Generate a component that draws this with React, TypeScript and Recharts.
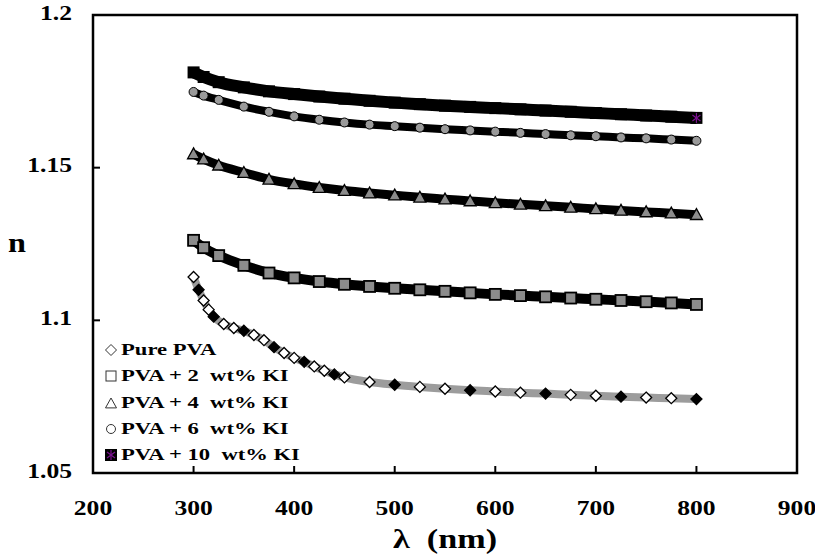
import React from "react";
import { LineChart, Line, XAxis, YAxis, ReferenceArea } from "recharts";

// wavelength (nm) and refractive index n
const pureWl = [300, 305, 310, 315, 320, 330, 340, 350, 360, 370, 380, 390, 400, 410, 420, 430, 440, 450, 475, 500, 525, 550, 575, 600, 625, 650, 675, 700, 725, 750, 775, 800];
const pureN = [1.1142, 1.11, 1.1065, 1.1035, 1.1012, 1.0988, 1.0975, 1.0966, 1.0952, 1.0935, 1.0912, 1.0893, 1.0877, 1.0864, 1.0849, 1.0835, 1.0823, 1.0813, 1.0798, 1.0789, 1.0782, 1.0776, 1.0771, 1.0767, 1.0763, 1.076, 1.0756, 1.0753, 1.075, 1.0747, 1.0745, 1.0742];

const kiWl = [300, 310, 325, 350, 375, 400, 425, 450, 475, 500, 525, 550, 575, 600, 625, 650, 675, 700, 725, 750, 775, 800];
const ki2N = [1.1262, 1.1238, 1.1212, 1.118, 1.1155, 1.1139, 1.1127, 1.1118, 1.1111, 1.1105, 1.11, 1.1095, 1.109, 1.1085, 1.1081, 1.1077, 1.1073, 1.1069, 1.1065, 1.1061, 1.1057, 1.1052];
const ki4N = [1.1545, 1.1528, 1.1508, 1.1484, 1.1462, 1.1447, 1.1435, 1.1425, 1.1417, 1.141, 1.1403, 1.1397, 1.1391, 1.1385, 1.138, 1.1375, 1.137, 1.1365, 1.136, 1.1355, 1.1351, 1.1346];
const ki6N = [1.1748, 1.1736, 1.1722, 1.17, 1.1683, 1.1668, 1.1657, 1.1648, 1.1641, 1.1636, 1.1631, 1.1626, 1.1622, 1.1618, 1.1614, 1.161, 1.1606, 1.1603, 1.1599, 1.1596, 1.1592, 1.1588];
const ki10N = [1.1812, 1.1797, 1.178, 1.1763, 1.175, 1.1741, 1.1733, 1.1726, 1.1719, 1.1713, 1.1708, 1.1703, 1.1699, 1.1695, 1.1691, 1.1687, 1.1683, 1.1679, 1.1675, 1.1671, 1.1667, 1.1663];

const xTicks = [200, 300, 400, 500, 600, 700, 800, 900];
const yTicks = [1.05, 1.1, 1.15, 1.2];
const legendNames = ["Pure PVA", "PVA + 2  wt% KI", "PVA + 4  wt% KI", "PVA + 6  wt% KI", "PVA + 10  wt% KI"];

const toRows = (wl: number[], n: number[]) => wl.map((w, i) => ({ wl: w, n: n[i] }));

const FONT = "'Liberation Serif', 'Times New Roman', serif";
const PURPLE = "#7b1290";
// the original figure is stretched sideways, so its text is wide
const STRETCH = 1.28;

const XTick = ({ x, y, payload }: any) => (
  <g>
    {payload.value > 200 && payload.value < 900 && (
      <line x1={x} x2={x} y1={y} y2={y - 7} stroke="#000" strokeWidth={2} />
    )}
    <text transform={`translate(${x},${y + 37}) scale(${STRETCH},1)`} textAnchor="middle" dominantBaseline="middle"
      fontFamily={FONT} fontWeight="bold" fontSize={20} fill="#000">
      {payload.value}
    </text>
  </g>
);

const YTick = ({ x, y, payload }: any) => (
  <g>
    {payload.value > 1.05 && payload.value < 1.2 && (
      <line x1={x} x2={x + 7} y1={y} y2={y} stroke="#000" strokeWidth={2} />
    )}
    <text transform={`translate(${x - 21},${y}) scale(${STRETCH},1)`} textAnchor="end" dominantBaseline="middle"
      fontFamily={FONT} fontWeight="bold" fontSize={20} fill="#000">
      {payload.value}
    </text>
  </g>
);

const diamond = (cx: number, cy: number, r: number) =>
  `M${cx},${cy - r} L${cx + r},${cy} L${cx},${cy + r} L${cx - r},${cy} Z`;
const triangle = (cx: number, cy: number, r: number) =>
  `M${cx},${cy - r} L${cx + r},${cy + r * 0.8} L${cx - r},${cy + r * 0.8} Z`;

const asterisk = (cx: number, cy: number, r: number, key?: any) => (
  <g key={key} stroke={PURPLE} strokeWidth={1.2}>
    <line x1={cx} x2={cx} y1={cy - r} y2={cy + r} />
    <line x1={cx - r * 0.8} x2={cx + r * 0.8} y1={cy - r * 0.6} y2={cy + r * 0.6} />
    <line x1={cx - r * 0.8} x2={cx + r * 0.8} y1={cy + r * 0.6} y2={cy - r * 0.6} />
  </g>
);

const DiamondDot = (p: any) =>
  p.cx == null ? null : <path key={p.index} d={diamond(p.cx, p.cy, 5.5)} fill={p.index % 3 === 1 ? "#000" : "#fff"} stroke="#000" strokeWidth={1.3} />;
const SquareDot = (p: any) =>
  p.cx == null ? null : <rect key={p.index} x={p.cx - 5.5} y={p.cy - 5.5} width={11} height={11} fill="#8c8c8c" stroke="#000" strokeWidth={1.8} />;
const TriangleDot = (p: any) =>
  p.cx == null ? null : <path key={p.index} d={triangle(p.cx, p.cy, 6)} fill="#8c8c8c" stroke="#000" strokeWidth={1.3} />;
const CircleDot = (p: any) =>
  p.cx == null ? null : <circle key={p.index} cx={p.cx} cy={p.cy} r={4.5} fill="#9a9a9a" stroke="#000" strokeWidth={1} />;
const BlackDot = (p: any) => {
  if (p.cx == null) return null;
  if (p.index === ki10N.length - 1) {
    return (
      <g key={p.index}>
        <rect x={p.cx - 6} y={p.cy - 6} width={12} height={12} fill="#000" />
        {asterisk(p.cx, p.cy, 5)}
      </g>
    );
  }
  return <rect key={p.index} x={p.cx - 6} y={p.cy - 6} width={12} height={12} fill="#000" />;
};

const LegendSymbol = ({ i }: { i: number }) => (
  <svg width={14} height={14} style={{ marginRight: 3, flex: "none" }}>
    {i === 0 && <path d={diamond(7, 7, 5.5)} fill="#fff" stroke="#333" strokeWidth={1} />}
    {i === 1 && <rect x={2} y={2} width={10} height={10} fill="#fff" stroke="#333" strokeWidth={1} />}
    {i === 2 && <path d={triangle(7, 7.5, 5.5)} fill="#fff" stroke="#333" strokeWidth={1} />}
    {i === 3 && <circle cx={7} cy={7} r={4.5} fill="#fff" stroke="#333" strokeWidth={1} />}
    {i === 4 && (
      <g>
        <rect x={1} y={1} width={12} height={12} fill="#000" />
        {asterisk(7, 7, 5)}
      </g>
    )}
  </svg>
);

export default function App() {
  return (
    <div style={{ position: "absolute", left: 0, top: 0, width: 815, height: 560, background: "#fff" }}>
      <LineChart width={815} height={560} margin={{ top: 15, right: 18, bottom: 27, left: 13 }}>
        <XAxis dataKey="wl" type="number" domain={[200, 900]} ticks={xTicks} height={60}
          axisLine={false} tickLine={false} tickSize={0} tickMargin={0} tick={<XTick />} interval={0} />
        <YAxis dataKey="n" type="number" domain={[1.05, 1.2]} ticks={yTicks} width={80}
          axisLine={false} tickLine={false} tickSize={0} tickMargin={0} tick={<YTick />} interval={0} />
        <ReferenceArea x1={200} x2={900} y1={1.05} y2={1.2} fill="none" stroke="#000" strokeWidth={2.5} ifOverflow="visible" />
        <Line data={toRows(pureWl, pureN)} dataKey="n" type="monotone" stroke="#9c9c9c" strokeWidth={8}
          dot={DiamondDot} activeDot={false} isAnimationActive={false} />
        <Line data={toRows(kiWl, ki2N)} dataKey="n" type="monotone" stroke="#000" strokeWidth={10}
          dot={SquareDot} activeDot={false} isAnimationActive={false} />
        <Line data={toRows(kiWl, ki4N)} dataKey="n" type="monotone" stroke="#000" strokeWidth={9}
          dot={TriangleDot} activeDot={false} isAnimationActive={false} />
        <Line data={toRows(kiWl, ki6N)} dataKey="n" type="monotone" stroke="#000" strokeWidth={8}
          dot={CircleDot} activeDot={false} isAnimationActive={false} />
        <Line data={toRows(kiWl, ki10N)} dataKey="n" type="monotone" stroke="#000" strokeWidth={12}
          dot={BlackDot} activeDot={false} isAnimationActive={false} />
      </LineChart>

      <div style={{ position: "absolute", left: 104, top: 337, fontFamily: FONT, fontWeight: "bold", fontSize: 17 }}>
        {legendNames.map((name, i) => (
          <div key={name} style={{ display: "flex", alignItems: "center", height: 26.3, whiteSpace: "pre" }}>
            <LegendSymbol i={i} />
            <span style={{ display: "inline-block", transform: "scaleX(1.33)", transformOrigin: "left center" }}>{name}</span>
          </div>
        ))}
      </div>

      <div style={{ position: "absolute", left: 8, top: 227, fontFamily: FONT, fontWeight: "bold", fontSize: 28,
        transform: "scaleX(1.15)", transformOrigin: "left center" }}>n</div>
      <div style={{ position: "absolute", left: 393, top: 523, fontFamily: FONT, fontWeight: "bold", fontSize: 28,
        whiteSpace: "pre", transform: "scaleX(1.22)", transformOrigin: "left center" }}>
        λ  (nm)
      </div>
    </div>
  );
}
